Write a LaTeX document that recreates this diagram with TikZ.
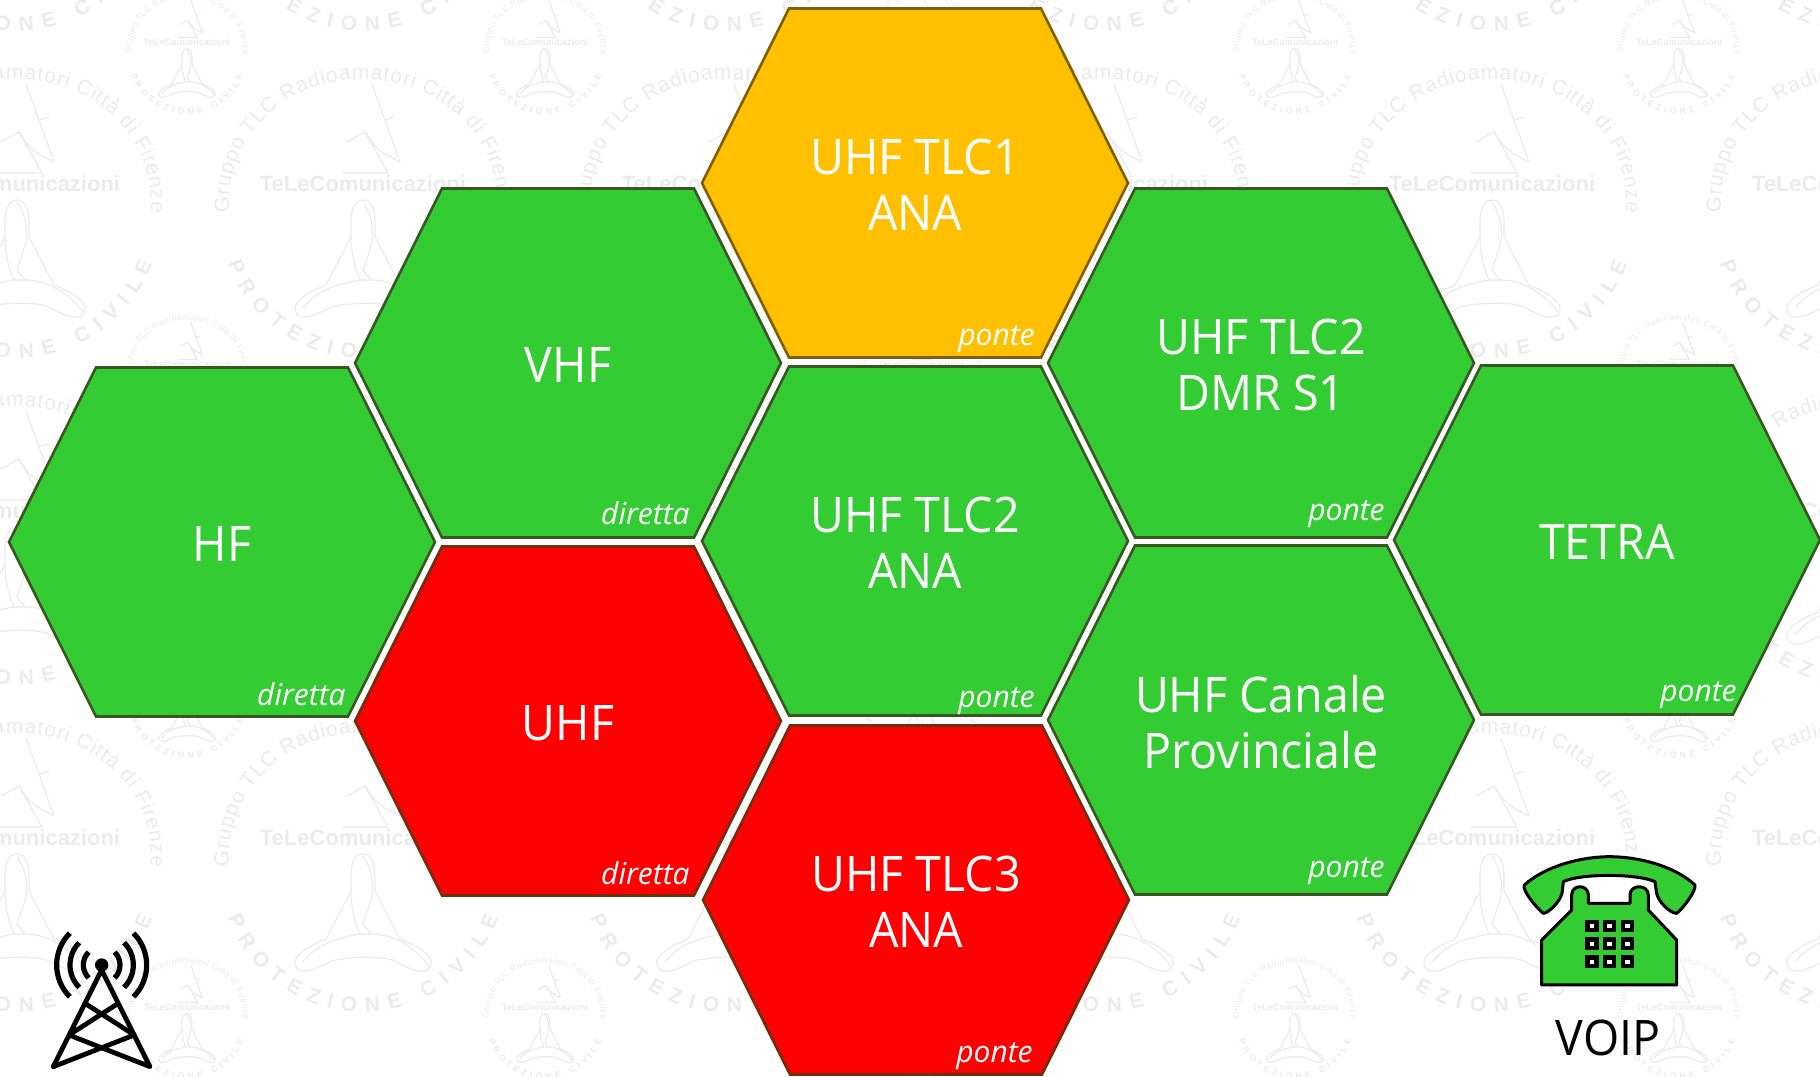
\documentclass[tikz,border=0pt]{standalone}
\usepackage{fontspec}
\usetikzlibrary{decorations.text}
\setmainfont{Open Sans}
\newfontfamily\hexfont[FakeStretch=0.95]{Open Sans}
\newfontfamily\wmfont{Liberation Sans}
\definecolor{hexgreen}{RGB}{51,204,51}
\definecolor{edgegreen}{RGB}{56,87,35}
\definecolor{hexamber}{RGB}{255,192,0}
\definecolor{edgeamber}{RGB}{127,96,0}
\definecolor{hexred}{RGB}{255,0,0}
\definecolor{edgered}{RGB}{112,48,16}
\definecolor{wmgray}{RGB}{235,235,235}
\tikzset{
  hexcell/.style={line width=1.3pt,line join=miter},
  hextext/.style={text=white,align=center,inner sep=0pt,font=\hexfont\fontsize{24.5}{28}\selectfont},
  hextag/.style={text=white,anchor=base east,inner sep=0pt,font=\itshape\fontsize{15}{17}\selectfont},
  wmline/.style={draw=wmgray,line width=0.6pt},
  towerline/.style={draw=black,line width=2.4pt,line cap=round,line join=round},
  towerwave/.style={draw=black,line width=2.6pt},
  phonepart/.style={draw=black,fill=hexgreen,line width=1.5pt,line join=round}
}
% watermark stamp: x, y, scale
\newcommand{\wmlogo}[3]{%
  \pgfmathsetmacro{\wmtopsize}{10.4*#3}
  \pgfmathsetmacro{\wmmidsize}{11*#3}
  \pgfmathsetmacro{\wmlowsize}{10.4*#3}
  \begin{scope}[shift={(#1,#2)},scale=#3]
    \path[decorate,decoration={text along path,text color=wmgray,text align={fit to path},
      text={|\wmfont\fontsize{\wmtopsize}{\wmtopsize}\selectfont|Gruppo TLC Radioamatori Città di Firenze}}]
      (-133.5,28.7) arc[x radius=134,y radius=123,start angle=175,end angle=365];
    \path[decorate,decoration={text along path,text color=wmgray,text align={fit to path},
      text={|\wmfont\bfseries\fontsize{\wmlowsize}{\wmlowsize}\selectfont|PROTEZIONE CIVILE}}]
      (-135.3,79.2) arc[radius=144,start angle=160,end angle=20];
    \node[text=wmgray,inner sep=0pt,font=\wmfont\bfseries\fontsize{\wmmidsize}{\wmmidsize}\selectfont] at (0,0) {TeLeComunicazioni};
    \draw[wmline] (9,-100) -- (37,-22);
    \draw[wmline] (22,-64) -- (32,-67);
    \draw[wmline] (-16,-42) -- (2,-52) -- (25,-11) -- (-22,-11);
    \draw[wmline] (2,-52) .. controls (14,-34) .. (37,-22);
    \draw[wmline] (0,16) .. controls (10,16) and (12,28) .. (12,40) -- (12,53) -- (37,101)
      .. controls (55,108) and (70,118) .. (68,126) .. controls (66,136) and (55,136) .. (32,123)
      .. controls (20,118) and (-10,118) .. (-32,123) .. controls (-55,136) and (-66,136) .. (-68,126)
      .. controls (-70,118) and (-55,108) .. (-37,101) -- (-12,53) -- (-12,40) .. controls (-12,28) and (-10,16) .. (0,16);
    \draw[wmline] (0,18) .. controls (8,30) and (12,45) .. (8,62) -- (0,86) -- (8,96) .. controls (20,96) and (45,100) .. (66,128);
    \draw[wmline] (-12,53) .. controls (-12,70) and (-8,85) .. (-3,96) -- (8,96);
    \draw[wmline] (-3,96) .. controls (-25,100) and (-45,105) .. (-60,124);
  \end{scope}}

\begin{document}
\begin{tikzpicture}[x=0.5pt,y=-0.5pt]
  \useasboundingbox (0,0) rectangle (1820,1076);
  \fill[white] (0,0) rectangle (1820,1076);
  % watermark
  \begin{scope}
    \clip (0,0) rectangle (1820,1076);
    \foreach \wmx in {17,363,725,1105,1492,1855}
      \foreach \wmy in {-143,184,511,838}
        \wmlogo{\wmx}{\wmy}{1};
    \foreach \wmx in {187,545,921,1295,1679}
      \foreach \wmy in {42,364,686,1007}
        \wmlogo{\wmx}{\wmy}{0.417};
  \end{scope}
  % cells
  \foreach \hexname/\cx/\cy/\hexcol/\hexedge/\hexlabel/\hexnote/\notex/\notey in {
    hf/222/542/hexgreen/edgegreen/{HF}/diretta/124/163,
    vhf/568/363/hexgreen/edgegreen/{VHF}/diretta/122/161,
    uhf/568/721/hexred/edgered/{UHF}/diretta/122/163,
    tlca/915/183/hexamber/edgeamber/{UHF TLC1\\ANA}/ponte/120/162,
    tlcb/915/541/hexgreen/edgegreen/{UHF TLC2\\ANA}/ponte/120/166,
    tlcc/916/900/hexred/edgered/{UHF TLC3\\ANA}/ponte/117/162,
    dmr/1261/363/hexgreen/edgegreen/{UHF TLC2\\DMR S1}/ponte/124/157,
    prov/1261/720/hexgreen/edgegreen/{UHF Canale\\Provinciale}/ponte/124/157,
    tetra/1607/540/hexgreen/edgegreen/{TETRA}/ponte/130/161}{
    \path[hexcell,fill=\hexcol,draw=\hexedge] (\cx-213,\cy) -- (\cx-126,\cy-174.5)
      -- (\cx+126,\cy-174.5) -- (\cx+213,\cy) -- (\cx+126,\cy+174.5) -- (\cx-126,\cy+174.5) -- cycle;
    \node[hextext] (\hexname) at (\cx,\cy+2) {\hexlabel};
    \node[hextag] (\hexname note) at (\cx+\notex,\cy+\notey) {\hexnote};
  }
  % tower
  \begin{scope}[shift={(0,880)},scale=0.3333]
    \fill (305,255) circle (20);
    \draw[towerline] (160,560) -- (305,270) -- (450,560) -- (207,465) -- (355,370);
    \draw[towerline] (160,560) -- (403,465) -- (255,370);
    \foreach \wave in {55,95,135}{
      \draw[towerwave] ([shift={(305,255)}]135:\wave) arc[radius=\wave,start angle=135,end angle=225];
      \draw[towerwave] ([shift={(305,255)}]-45:\wave) arc[radius=\wave,start angle=-45,end angle=45];
    }
  \end{scope}
  % phone
  \begin{scope}[shift={(1480,830)},scale=0.3333]
    \path[phonepart] (185,465) -- (185,330) -- (275,240) -- (275,195) .. controls (275,162) and (325,162) .. (325,195)
      -- (325,220) -- (450,220) -- (450,195) .. controls (450,162) and (505,162) .. (505,195)
      -- (505,240) -- (590,330) -- (590,465) -- cycle;
    \path[phonepart] (133,165) .. controls (200,105) and (310,80) .. (388,80) .. controls (470,80) and (580,105) .. (645,165)
      .. controls (650,180) and (610,235) .. (590,250) .. controls (570,250) and (535,215) .. (530,190)
      -- (525,155) .. controls (470,130) and (300,130) .. (250,155) -- (246,190)
      .. controls (240,215) and (205,250) .. (190,250) .. controls (170,235) and (125,180) .. (133,165) -- cycle;
    \foreach \keyx in {336,389,442}
      \foreach \keyy in {288,341,395}{
        \fill[black] (\keyx-20,\keyy-19) rectangle (\keyx+20,\keyy+19);
        \fill[white] (\keyx-7,\keyy-6) rectangle (\keyx+7,\keyy+6);
      }
  \end{scope}
  \node[inner sep=0pt,text=black,font=\hexfont\fontsize{24.5}{28}\selectfont] (voip) at (1608,1038) {VOIP};
\end{tikzpicture}
\end{document}
